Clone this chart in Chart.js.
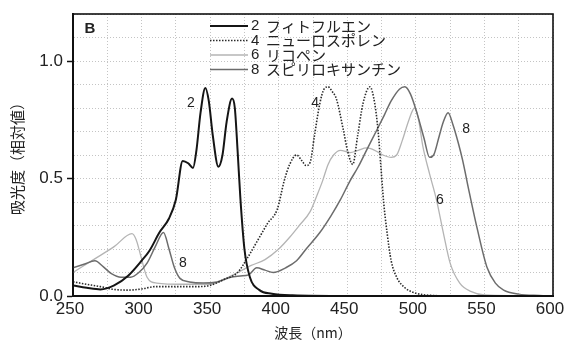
<!DOCTYPE html>
<html><head><meta charset="utf-8">
<script src="https://cdn.jsdelivr.net/npm/chart.js@4.4.1/dist/chart.umd.min.js"></script>
<style>html,body{margin:0;padding:0;background:#fff;}#wrap{width:566px;height:341px;}</style>
</head><body><div id="wrap"><canvas id="c" width="566" height="341"></canvas></div>
<script>
// ---- data ----
const seriesNums  = ['2', '4', '6', '8'];
const seriesNames = ['フィトフルエン', 'ニューロスポレン', 'リコペン', 'スピリロキサンチン'];

const wl2  = [250,260,270,280,290,300,306,313,320,325,330,334,337.5,340,343,346.5,349,352,356,359,362,366,368,370,372,375,379,386,395,410,450,600];
const abs2 = [0.045,0.035,0.028,0.045,0.085,0.15,0.195,0.27,0.33,0.41,0.575,0.565,0.545,0.62,0.78,0.885,0.83,0.68,0.55,0.6,0.74,0.84,0.8,0.62,0.42,0.2,0.08,0.025,0.01,0.003,0,0];

const wl4  = [250,260,270,280,290,300,310,320,330,340,350,360,370,377,385,392,399,404,408,413,417,420,423,426,430,433,436,439,442,447,450.5,454,457.5,461.5,466.5,470,472.5,474.5,476.5,479,482,486,492,500,510,530,600];
const abs4 = [0.06,0.05,0.04,0.028,0.025,0.03,0.04,0.04,0.04,0.04,0.045,0.07,0.1,0.16,0.24,0.31,0.37,0.49,0.56,0.6,0.575,0.555,0.57,0.68,0.82,0.88,0.89,0.87,0.84,0.71,0.61,0.56,0.68,0.82,0.89,0.82,0.7,0.55,0.4,0.27,0.15,0.08,0.035,0.012,0.003,0,0];

const wl6  = [250,265,280,293,296,299,304,311,330,350,360,370,380,390,400,408,415,423,428,432,436,440,445,452,458,464,470,476,482,486,490,495,499,502,505,510,515,520,525,532,540,550,600];
const abs6 = [0.1,0.155,0.21,0.265,0.24,0.18,0.08,0.055,0.05,0.05,0.07,0.1,0.13,0.155,0.2,0.25,0.3,0.36,0.43,0.49,0.56,0.6,0.62,0.61,0.62,0.63,0.62,0.6,0.59,0.6,0.66,0.75,0.8,0.75,0.64,0.52,0.41,0.27,0.14,0.055,0.02,0.005,0];

const wl8  = [250,258,266,272,278,285,292,298,304,310,316,320,324,328,335,345,355,365,372,378,384,390,396,405,413,420,430,438,445,452,458,464,471,477,482,488,492,496,501,506,510,513,517,520,523.5,527,531,534,539,545,552,558,564,575,590,600];
const abs8 = [0.12,0.135,0.15,0.125,0.095,0.08,0.08,0.1,0.14,0.21,0.27,0.2,0.12,0.075,0.06,0.055,0.06,0.08,0.085,0.09,0.12,0.11,0.1,0.12,0.15,0.2,0.27,0.34,0.41,0.49,0.55,0.62,0.7,0.77,0.83,0.88,0.89,0.86,0.775,0.67,0.59,0.6,0.68,0.74,0.78,0.73,0.65,0.58,0.44,0.28,0.12,0.055,0.025,0.008,0.002,0];

// curve annotations (text, wavelength, absorbance)
const noteTexts = ['2', '4', '6', '8', '8'];
const noteWl    = [336, 426.5, 517.6, 536.6, 330.2];
const noteAbs   = [0.82, 0.82, 0.41, 0.71, 0.14];
const panelLetter = 'B';
const panelPos = [262.4, 1.136];

const xTickStep = 25, xLabelStep = 50;
const yTickStep = 0.1, yLabelStep = 0.5;

function pts(xs, ys) { return xs.map((x, i) => ({x: x, y: ys[i]})); }

const styles = [
  {color: '#151515', width: 2.0, dash: []},
  {color: '#2a2a2a', width: 1.6, dash: [1.5, 1.5]},
  {color: '#b4b4b4', width: 1.3, dash: []},
  {color: '#6c6c6c', width: 1.5, dash: []}
];
const wls = [wl2, wl4, wl6, wl8];
const abss = [abs2, abs4, abs6, abs8];

const datasets = wls.map((w, i) => ({
  label: seriesNums[i] + ' ' + seriesNames[i],
  data: pts(w, abss[i]),
  borderColor: styles[i].color,
  borderWidth: styles[i].width,
  borderDash: styles[i].dash,
  pointRadius: 0,
  fill: false,
  cubicInterpolationMode: 'monotone'
}));
// draw light curves first, dark on top
const order = [2, 3, 1, 0];
datasets.forEach((d, i) => { d.order = 3 - order.indexOf(i); });

const tickFont = {family: "'Liberation Sans', Arial, sans-serif", size: 17};
const jpFont = "'Noto Sans CJK JP', sans-serif";

const decor = {
  id: 'decor',
  afterDatasetsDraw(chart) {
    const ctx = chart.ctx, a = chart.chartArea;
    const xs = chart.scales.x, ys = chart.scales.y;
    ctx.save();
    // frame
    ctx.strokeStyle = '#111'; ctx.lineWidth = 1.6; ctx.setLineDash([]);
    ctx.strokeRect(a.left, a.top, a.right - a.left, a.bottom - a.top);
    // legend
    const rowY = [26, 40.5, 55, 69.5];
    datasets.forEach((d, i) => {
      const y = rowY[i];
      ctx.strokeStyle = d.borderColor; ctx.lineWidth = d.borderWidth;
      ctx.setLineDash(d.borderDash);
      ctx.beginPath(); ctx.moveTo(210, y); ctx.lineTo(248, y); ctx.stroke();
      ctx.setLineDash([]);
      ctx.fillStyle = '#222'; ctx.textBaseline = 'middle'; ctx.textAlign = 'left';
      ctx.font = "15px 'Liberation Sans', Arial, sans-serif";
      ctx.fillText(seriesNums[i], 251, y);
      ctx.font = '15px ' + jpFont;
      ctx.fillText(seriesNames[i], 266, y);
    });
    // curve annotations
    ctx.fillStyle = '#222'; ctx.textAlign = 'center'; ctx.textBaseline = 'middle';
    ctx.font = "14px 'Liberation Sans', Arial, sans-serif";
    noteTexts.forEach((t, i) => {
      ctx.fillText(t, xs.getPixelForValue(noteWl[i]), ys.getPixelForValue(noteAbs[i]));
    });
    ctx.font = "bold 15px 'Liberation Sans', Arial, sans-serif";
    ctx.fillText(panelLetter, xs.getPixelForValue(panelPos[0]), ys.getPixelForValue(panelPos[1]));
    ctx.restore();
  }
};

new Chart(document.getElementById('c'), {
  type: 'line',
  data: {datasets: datasets},
  options: {
    responsive: false,
    devicePixelRatio: 1,
    animation: false,
    layout: {padding: {left: 0, right: 13, top: 14, bottom: 0}},
    plugins: {legend: {display: false}, tooltip: {enabled: false}},
    scales: {
      x: {
        type: 'linear', min: 250, max: 600,
        ticks: {
          stepSize: xTickStep, autoSkip: false, maxRotation: 0,
          callback: v => (Math.round(v) % xLabelStep === 0 ? String(Math.round(v)) : ''),
          font: tickFont, color: '#222', padding: 3, labelOffset: -3
        },
        grid: {color: '#c4c4c4', lineWidth: 1, drawTicks: false},
        border: {display: true, color: '#111', width: 2, dash: [1, 2]},
        title: {display: true, text: '波長（nm）', color: '#222',
                font: {family: jpFont, size: 14}, padding: {top: 0, bottom: 0}},
        afterFit: s => { s.height = 45; s.paddingLeft = 0; s.paddingRight = 0; }
      },
      y: {
        min: 0, max: 1.2,
        ticks: {
          stepSize: yTickStep, autoSkip: false,
          callback: v => (Math.round(v * 10) % Math.round(yLabelStep * 10) === 0 ? v.toFixed(1) : ''),
          font: tickFont, color: '#222', padding: 4
        },
        grid: {
          color: '#c4c4c4', lineWidth: 1, tickLength: 6,
          tickColor: c => (c.tick && Math.round(c.tick.value * 10) % 5 === 0 ? '#111' : 'rgba(0,0,0,0)'),
          tickWidth: 1.5
        },
        border: {display: true, color: '#111', width: 2, dash: [1, 2]},
        title: {display: true, text: '吸光度（相対値）', color: '#222',
                font: {family: jpFont, size: 15}, padding: {top: 8, bottom: 0}},
        afterFit: s => { s.width = 73; s.paddingTop = 0; s.paddingBottom = 0; }
      }
    }
  },
  plugins: [decor]
});
</script>
</body></html>
